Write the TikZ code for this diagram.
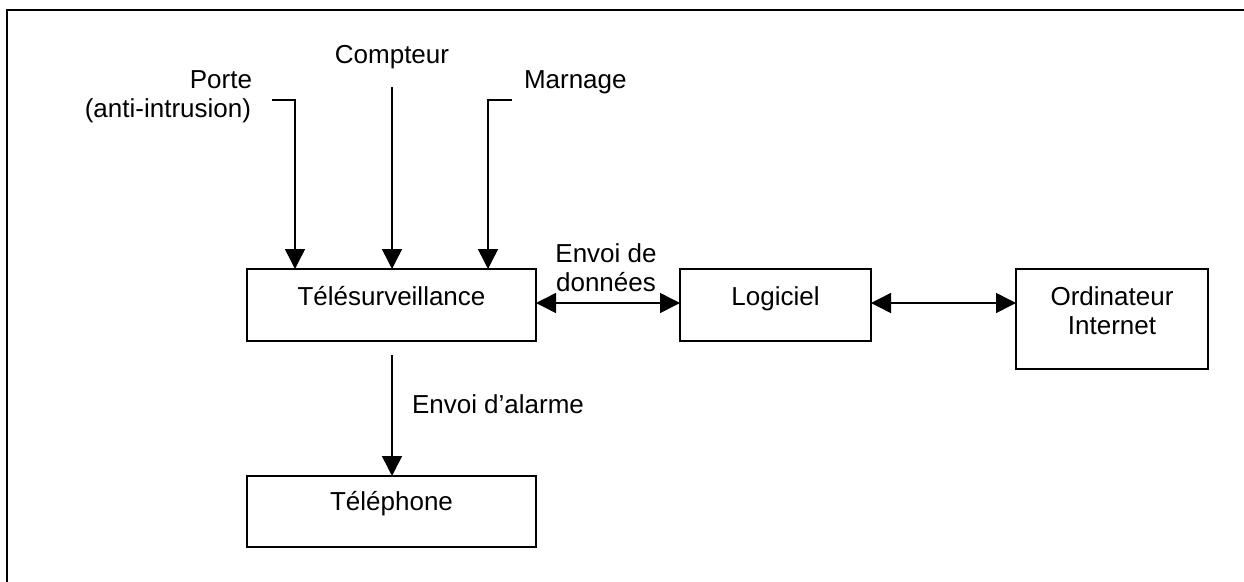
\documentclass[tikz,border=0pt]{standalone}
\usepackage{fontspec}
\setmainfont{Liberation Sans}
\usetikzlibrary{arrows.meta,calc}
\begin{document}
\begin{tikzpicture}[x=1pt,y=-1pt,
  every node/.style={font=\fontsize{26}{29}\selectfont, inner sep=0pt, outer sep=0pt},
  boxnode/.style={draw, line width=1.5pt, anchor=north west, text height=36pt},
  lbl/.style={anchor=base},
  arr/.style={line width=1.5pt, -{Triangle[length=20pt,width=20pt]}},
  darr/.style={line width=1.5pt, {Triangle[length=20pt,width=20pt]}-{Triangle[length=20pt,width=20pt]}},
  framestyle/.style={line width=2pt}]
\useasboundingbox (0,0) rectangle (1244,581);
% outer frame
\coordinate (fbl) at (7,582);
\coordinate (ftl) at (7,10);
\coordinate (ftr) at (1245,10);
\draw[framestyle] (fbl) -- (ftl) -- (ftr);
% boxes
\node[boxnode, minimum width=289pt, text depth=36pt] (tele) at (247,269) {Télésurveillance};
\node[boxnode, minimum width=191pt, text depth=36pt] (log) at (680,269) {Logiciel};
\node[boxnode, minimum width=192pt, text depth=64pt] (ord) at (1016,269)
  {\begin{tabular}[t]{@{}c@{}}Ordinateur\\Internet\end{tabular}};
\node[boxnode, minimum width=289pt, text height=34pt, text depth=37pt] (tel) at (247,476) {Téléphone};
% labels
\node[anchor=base east] (porte) at (252,88) {Porte};
\node[anchor=base east] (anti) at (251,117) {(anti-intrusion)};
\node[lbl] (cpt) at (392,63) {Compteur};
\node[anchor=base west] (marn) at (524,88) {Marnage};
\node[lbl] (env1) at (606,262) {Envoi de};
\node[lbl] (env2) at (606,291) {données};
\node[anchor=base west] (alarm) at (412,413) {Envoi d’alarme};
% input connectors
\coordinate (p0) at (272,100);
\coordinate (pk) at (295,100);
\coordinate (c0) at (392,87);
\coordinate (m0) at (512,100);
\coordinate (mk) at (488,100);
\draw[arr] (p0) -| (pk |- tele.north);
\draw[arr] (c0) -- (c0 |- tele.north);
\draw[arr] (m0) -| (mk |- tele.north);
% data connectors
\draw[darr] ([yshift=2pt]tele.east) -- ([yshift=2pt]tele.east -| log.west);
\draw[darr] ([yshift=2pt]log.east) -- ([yshift=2pt]log.east -| ord.west);
% alarm
\coordinate (a0) at (392,355);
\draw[arr] (a0) -- (a0 |- tel.north);
\end{tikzpicture}
\end{document}
